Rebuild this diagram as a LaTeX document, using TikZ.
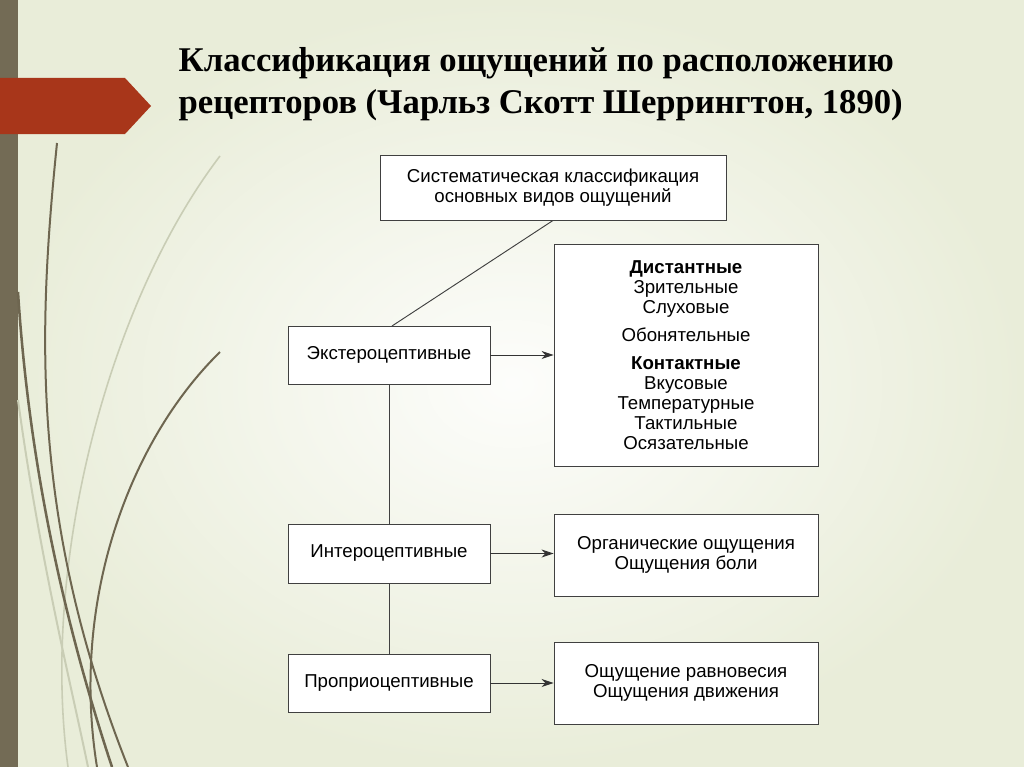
\documentclass[tikz,border=0pt]{standalone}
\usepackage{fontspec}
\setmainfont{Liberation Sans}
\newfontfamily\titlefont{Liberation Serif}
\usetikzlibrary{arrows.meta}
\definecolor{bgc}{HTML}{E9EDD9}
\definecolor{olive}{HTML}{736B55}
\definecolor{redc}{HTML}{A8361A}
\definecolor{grass}{HTML}{6E6650}
\definecolor{grasslt}{HTML}{C9CDB5}
\tikzset{box/.style={draw=black!75,fill=white,line width=0.7pt,inner sep=0pt},
 txt/.style={font=\fontsize{14}{15}\selectfont,align=center},
 arr/.style={-{Stealth[length=9pt,width=6pt]},line width=0.7pt,black!80},
 ln/.style={line width=0.7pt,black!75}}
\begin{document}
\begin{tikzpicture}[x=0.75pt,y=-0.75pt]
\useasboundingbox (0,0) rectangle (1024,767);
\shade[inner color=white!90!bgc,outer color=bgc] (0,0) rectangle (1024,767);
\fill[olive] (0,0) rectangle (18,767);
\fill[redc] (0,78) -- (125,78) -- (151,106) -- (125,134) -- (0,134) -- cycle;
% grass
\draw[grasslt,line width=1.2pt] (220,156) .. controls (110,300) and (40,560) .. (68,767);
\draw[grasslt,line width=1.5pt] (18,400) .. controls (40,560) and (70,680) .. (88,767);
\draw[grass,line width=1.5pt] (57,143) .. controls (38,330) and (30,520) .. (128,767);
\draw[grass,line width=1.9pt] (18,292) .. controls (30,480) and (70,640) .. (112,767);
\draw[grass,line width=1.5pt] (220,352) .. controls (130,440) and (70,600) .. (97,767);
% title
\node[anchor=west,font=\titlefont\bfseries\fontsize{26}{31}\selectfont,align=left] (title) at (174,84)
 {Классификация ощущений по расположению\\рецепторов (Чарльз Скотт Шеррингтон, 1890)};
% boxes
\node[box,minimum width=346*0.75pt,minimum height=65*0.75pt,txt] (top) at (553,187.5)
 {Систематическая классификация\\основных видов ощущений};
\node[box,minimum width=202*0.75pt,minimum height=58*0.75pt,txt] (ext) at (389,355) {Экстероцептивные};
\node[box,minimum width=202*0.75pt,minimum height=59*0.75pt,txt] (int) at (389,553.5) {Интероцептивные};
\node[box,minimum width=202*0.75pt,minimum height=58*0.75pt,txt] (pro) at (389,683) {Проприоцептивные};
\node[box,minimum width=264*0.75pt,minimum height=222*0.75pt] (r1) at (686,355) {};
\node[txt,anchor=north] (r1t) at (686,256) {\textbf{Дистантные}\\Зрительные\\Слуховые\\[6pt]Обонятельные\\[6pt]\textbf{Контактные}\\Вкусовые\\Температурные\\Тактильные\\Осязательные};
\node[box,minimum width=264*0.75pt,minimum height=82*0.75pt,txt] (r2) at (686,555) {Органические ощущения\\Ощущения боли};
\node[box,minimum width=264*0.75pt,minimum height=82*0.75pt,txt] (r3) at (686,683) {Ощущение равновесия\\Ощущения движения};
% connectors
\draw[ln] (top.south) -- (392,326);
\draw[ln] (ext.south) -- (int.north);
\draw[ln] (int.south) -- (pro.north);
\draw[arr] (ext.east) -- (r1.west |- ext.east);
\draw[arr] (int.east) -- (r2.west |- int.east);
\draw[arr] (pro.east) -- (r3.west |- pro.east);
\end{tikzpicture}
\end{document}
